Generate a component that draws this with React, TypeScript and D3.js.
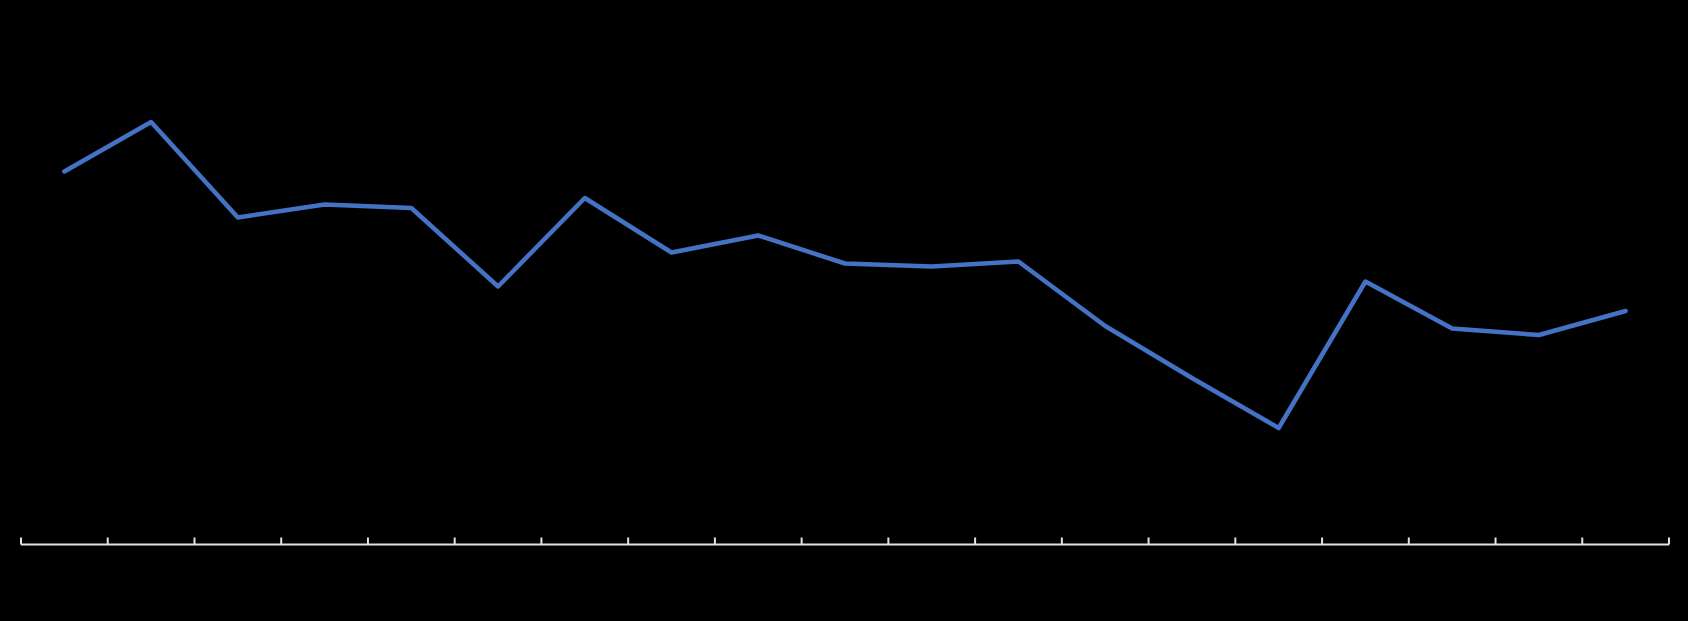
import React from "react";
import * as d3 from "d3";

const categories: string[] = [
  "1", "2", "3", "4", "5", "6", "7", "8", "9", "10",
  "11", "12", "13", "14", "15", "16", "17", "18", "19",
];

const values: number[] = [
  74.6, 84.5, 65.4, 68.0, 67.3, 51.6, 69.3, 58.4, 61.8, 56.2,
  55.6, 56.6, 43.7, 33.3, 23.3, 52.6, 43.2, 41.9, 46.7,
];

const yDomain: [number, number] = [0, 100];

const W = 1688;
const H = 621;
const left = 21;
const right = 1669;
const axisY = 544.5;
const topY = 44.5;

export default function App() {
  const x = d3.scaleBand<string>().domain(categories).range([left, right]).padding(0);
  const y = d3.scaleLinear().domain(yDomain).range([axisY, topY]);

  const line = d3
    .line<number>()
    .x((_, i) => (x(categories[i]) as number) + x.bandwidth() / 2)
    .y((d) => y(d));

  const tickXs = [...categories.map((c) => x(c) as number), right];

  return (
    <svg
      width={W}
      height={H}
      style={{ position: "absolute", left: 0, top: 0, background: "#000", display: "block" }}
    >
      <rect x={0} y={0} width={W} height={H} fill="#000" />
      <g>
        <line x1={left} x2={right} y1={axisY} y2={axisY} stroke="#e3e3e3" strokeWidth={2} />
        {tickXs.map((tx, i) => (
          <line key={i} x1={tx} x2={tx} y1={axisY} y2={axisY - 7} stroke="#e3e3e3" strokeWidth={2} />
        ))}
      </g>
      <path
        d={line(values) || ""}
        fill="none"
        stroke="#4472C4"
        strokeWidth={4.5}
        strokeLinejoin="round"
        strokeLinecap="round"
      />
    </svg>
  );
}
